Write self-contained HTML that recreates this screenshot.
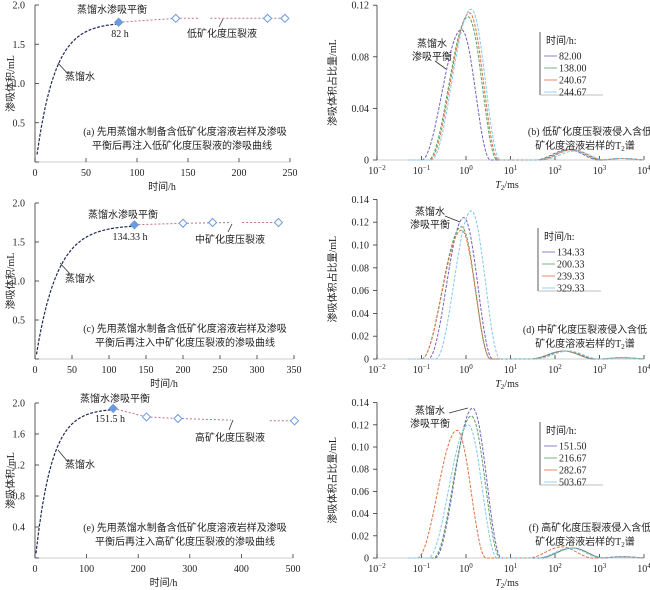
<!DOCTYPE html>
<html><head><meta charset="utf-8"><style>
html,body{margin:0;padding:0;background:#fff;}
svg{display:block;}
text{font-family:"Liberation Serif","Noto Serif CJK SC",serif;fill:#222;}
.t{font-size:10px;}
.c{font-family:"Liberation Serif","Noto Sans CJK SC",sans-serif;font-size:10px;}
</style></head><body>
<svg id="s" width="650" height="590" viewBox="0 0 650 590" xmlns="http://www.w3.org/2000/svg"></svg>
<script>
const S=document.getElementById('s');let h='';
function T(x,y,s,o){o=o||{};h+=`<text x="${x}" y="${y}" class="${o.c||'t'}" text-anchor="${o.a||'middle'}" ${o.tr?`transform="${o.tr}"`:''}>${s}</text>`;}
function L(x1,y1,x2,y2,st){h+=`<line x1="${x1}" y1="${y1}" x2="${x2}" y2="${y2}" stroke="${st||'#555'}" stroke-width="0.8"/>`;}
function P(pts,col,dash,w){h+=`<polyline fill="none" stroke="${col}" stroke-width="${w||1}" ${dash?`stroke-dasharray="${dash}"`:''} points="${pts.map(p=>p[0].toFixed(1)+','+p[1].toFixed(1)).join(' ')}"/>`;}
function D(x,y,fill){h+=`<polygon points="${x},${y-4} ${x+4},${y} ${x},${y+4} ${x-4},${y}" fill="${fill?'#6b9ae0':'#fff'}" stroke="#6b9ae0" stroke-width="1"/>`;}
function left(cfg){
 const {y0,ysc,ymax,yt,xsc,xt}=cfg;
 const X=v=>35+v*xsc,Y=v=>y0-v*ysc;
 L(35,Y(ymax),35,y0,'#333');L(35,y0,X(xt[xt.length-1]),y0,'#bbb');
 yt.forEach(v=>{L(35,Y(v),39,Y(v),'#333');T(25,Y(v)+3.5,v===0?'':v.toFixed(1),{a:'end'});});
 xt.forEach(v=>{L(X(v),y0,X(v),y0-4,'#333');T(X(v),y0+14,v);});
 T(X(xt[xt.length-1])/2+17,y0+28,'时间/h',{c:'c'});
 T(14,(Y(ymax)+y0)/2,'渗吸体积/mL',{c:'c',tr:`rotate(-90 14 ${(Y(ymax)+y0)/2})`});
 let pts=[];const te=cfg.te,ve=cfg.ve,k=cfg.k;
 for(let t=2;t<=te;t+=1){let v=ve*(1-Math.exp(-k*(t-1)));pts.push([X(t),Y(Math.min(v,ymax))]);}
 P(pts,'#1f2a55','3,1.5',1.2);
 cfg.dots.forEach(s=>P([[X(s[0]),Y(s[1])],[X(s[2]),Y(s[3])]],'#c07090','2,2',1));
 D(X(te),Y(ve),true);cfg.hol.forEach(p=>D(X(p[0]),Y(p[1]),false));
 cfg.texts.forEach(a=>T(a[0],a[1],a[2],{c:'c'}));
 cfg.lead.forEach(a=>L(a[0],a[1],a[2],a[3],'#333'));
}
left({y0:162,ysc:78.5,ymax:2,yt:[0,0.5,1,1.5,2],xsc:1.02,xt:[0,50,100,150,200,250],te:82,ve:1.78,k:0.055,
 dots:[[82,1.78,138,1.83],[138,1.83,160,1.83],[172,1.83,245,1.83]],hol:[[138,1.83],[228,1.83],[245,1.83]],
 texts:[[112,13,'蒸馏水渗吸平衡'],[120,37,'82 h'],[222,37,'低矿化度压裂液'],[80,80,'蒸馏水'],[185,135,'(a) 先用蒸馏水制备含低矿化度溶液岩样及渗吸'],[182,149,'平衡后再注入低矿化度压裂液的渗吸曲线']],
 lead:[[58,63,68,74],[223,19,219,27]]});
left({y0:359,ysc:78,ymax:2,yt:[0,0.5,1,1.5,2],xsc:0.74,xt:[0,50,100,150,200,250,300,350],te:134.33,ve:1.72,k:0.035,
 dots:[[134.33,1.72,200,1.74],[200,1.74,265,1.75],[280,1.75,329,1.75]],hol:[[200,1.74],[240,1.75],[329,1.75]],
 texts:[[123,218,'蒸馏水渗吸平衡'],[130,240,'134.33 h'],[230,243,'中矿化度压裂液'],[80,282,'蒸馏水'],[185,332,'(c) 先用蒸馏水制备含低矿化度溶液岩样及渗吸'],[185,346,'平衡后再注入中矿化度压裂液的渗吸曲线']],
 lead:[[60,263,70,274],[232,224,228,232]]});
left({y0:558,ysc:77.5,ymax:2,yt:[0,0.4,0.8,1.2,1.6,2.0],xsc:0.516,xt:[0,100,200,300,400,500],te:151.5,ve:1.93,k:0.032,
 dots:[[151.5,1.93,216,1.82],[216,1.82,277,1.80],[277,1.80,380,1.78],[455,1.77,503,1.77]],hol:[[216,1.82],[277,1.80],[503,1.77]],
 texts:[[115,402,'蒸馏水渗吸平衡'],[110,422,'151.5 h'],[230,441,'高矿化度压裂液'],[80,468,'蒸馏水'],[185,531,'(e) 先用蒸馏水制备含低矿化度溶液岩样及渗吸'],[185,545,'平衡后再注入高矿化度压裂液的渗吸曲线']],
 lead:[[58,450,68,462],[233,420,229,430]]});
function bump(l,m,wl,wr){const w=l<m?wl:wr;const u=(l-m)/w;if(Math.abs(u)>=1)return 0;const c=Math.cos(Math.PI/2*u);return c*c;}
function right(cfg){
 const {y0,ysc,ymax,yt,dp}=cfg;const X=l=>377+(l+2)*44.5,Y=v=>y0-v*ysc;
 L(377,Y(ymax),377,y0,'#333');L(377,y0,642,y0,'#bbb');
 yt.forEach(v=>{L(373,Y(v),377,Y(v),'#333');T(369,Y(v)+3.5,v===0?'0':v.toFixed(dp),{a:'end'});});
 ['−2','−1','0','1','2','3','4'].forEach((s,i)=>{L(X(i-2),y0,X(i-2),y0-4,'#333');T(X(i-2),y0+14,'10<tspan font-size="7" dy="-4">'+s+'</tspan>');});
 T(507,y0+28,'<tspan font-style="italic">T</tspan><tspan font-size="7" dy="2">2</tspan><tspan dy="-2">/ms</tspan>');
 const cy=(Y(ymax)+y0)/2;T(336,cy,'渗吸体积占比量/mL',{c:'c',tr:`rotate(-90 336 ${cy})`});
 cfg.series.forEach(s=>{
  let pts=[];for(let l=-1.3;l<=4.02;l+=0.02){
   let v=s.h*bump(l,s.m,s.wl||0.9,s.wr||0.65)+s.h2*bump(l,s.m2,0.75,0.7)+0.0012*bump(l,3.5,0.5,0.6);
   pts.push([X(l),Y(v)]);}
  P(pts,s.col,'3,1.5',1);});
 const [lx,ly]=cfg.leg;L(lx,ly,lx,ly+63,'#333');L(lx,ly+63,lx+63,ly+63,'#aaa');
 T(lx+6,ly+12,'时间/h:',{c:'c',a:'start'});
 cfg.series.forEach((s,i)=>{L(lx+4,ly+24+i*12,lx+17,ly+24+i*12,s.col);T(lx+19,ly+27.5+i*12,s.n,{a:'start'});});
 cfg.texts.forEach(a=>T(a[0],a[1],a[2],{c:'c'}));cfg.lead.forEach(a=>L(a[0],a[1],a[2],a[3],'#333'));
}
const PU='#7060c0',GR='#5aa060',OR='#e07040',LB='#80c8f0';
right({y0:160,ysc:1290,ymax:0.12,yt:[0,0.04,0.08,0.12],dp:2,leg:[540,32],
 series:[{n:'82.00',col:PU,h:0.101,m:-0.1,h2:0.008,m2:2.3},{n:'138.00',col:GR,h:0.111,m:0.05,h2:0.008,m2:2.35},{n:'240.67',col:OR,h:0.114,m:0.08,h2:0.008,m2:2.4},{n:'244.67',col:LB,h:0.117,m:0.12,h2:0.007,m2:2.45}],
 texts:[[432,47,'蒸馏水'],[432,60,'渗吸平衡'],[590,135,'(b) 低矿化度压裂液侵入含低'],[585,149,'矿化度溶液岩样的T<tspan font-size="7" dy="2">2</tspan><tspan dy="-2">谱</tspan>']],
 lead:[[435,61,446,69]]});
right({y0:359,ysc:1140,ymax:0.14,yt:[0,0.02,0.04,0.06,0.08,0.10,0.12,0.14],dp:2,leg:[538,228],
 series:[{n:'134.33',col:PU,h:0.124,m:-0.05,wl:0.8,h2:0.007,m2:2.2},{n:'200.33',col:GR,h:0.116,m:-0.1,h2:0.007,m2:2.2},{n:'239.33',col:OR,h:0.113,m:-0.1,h2:0.007,m2:2.25},{n:'329.33',col:LB,h:0.13,m:0.12,wl:0.8,h2:0.007,m2:2.3}],
 texts:[[430,215,'蒸馏水'],[430,228,'渗吸平衡'],[585,333,'(d) 中矿化度压裂液侵入含低'],[585,347,'矿化度溶液岩样的T<tspan font-size="7" dy="2">2</tspan><tspan dy="-2">谱</tspan>']],
 lead:[[445,216,460,222]]});
right({y0:558,ysc:1110,ymax:0.14,yt:[0,0.02,0.04,0.06,0.08,0.10,0.12,0.14],dp:2,leg:[540,422],
 series:[{n:'151.50',col:PU,h:0.135,m:0.15,wl:0.85,h2:0.009,m2:2.4},{n:'216.67',col:GR,h:0.128,m:0.12,wl:0.85,h2:0.009,m2:2.4},{n:'282.67',col:OR,h:0.115,m:-0.2,h2:0.01,m2:2.15},{n:'503.67',col:LB,h:0.12,m:0.05,h2:0.009,m2:2.35}],
 texts:[[430,414,'蒸馏水'],[430,427,'渗吸平衡'],[590,531,'(f) 高矿化度压裂液侵入含低'],[585,545,'矿化度溶液岩样的T<tspan font-size="7" dy="2">2</tspan><tspan dy="-2">谱</tspan>']],
 lead:[[449,413,468,408]]});
S.innerHTML=h;
</script>
</body></html>
